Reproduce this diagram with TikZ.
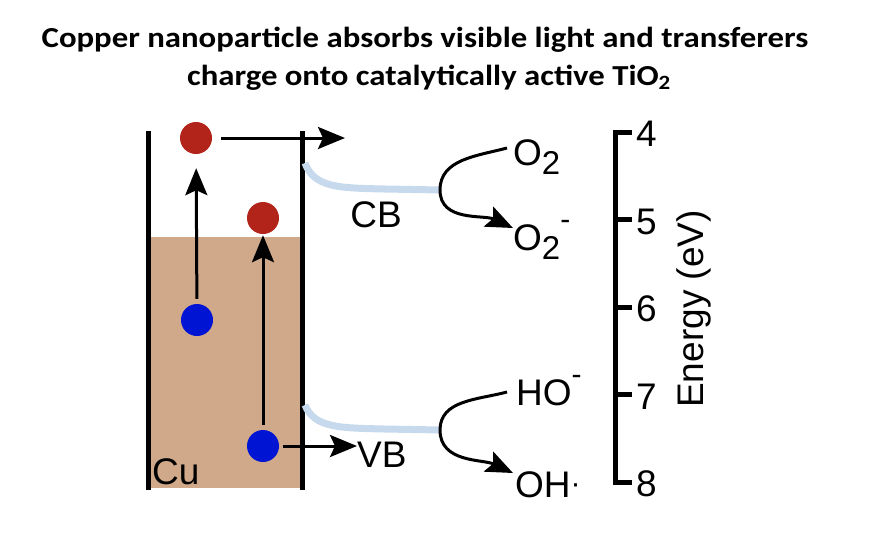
\documentclass[tikz,border=0pt]{standalone}
\usepackage{fontspec}
\setmainfont{Liberation Sans}
\newfontfamily\titlefont{Carlito}
\usepackage{xcolor}
\definecolor{cubrown}{RGB}{207,169,138}
\definecolor{elecred}{RGB}{178,36,26}
\definecolor{holeblue}{RGB}{0,20,212}
\definecolor{bandblue}{RGB}{199,217,236}
\usetikzlibrary{arrows.meta}
\newcommand{\lowtxt}[1]{\raisebox{-.25em}{\fontsize{33}{33}\selectfont #1}}
\newcommand{\hightxt}[1]{\raisebox{.55em}{\fontsize{30}{30}\selectfont #1}}

\begin{document}
\begin{tikzpicture}[x=1pt,y=-1pt,
wall/.style={line width=5pt},
electron/.style={circle,fill=elecred,inner sep=0pt,minimum size=32pt},
hole/.style={circle,fill=holeblue,inner sep=0pt,minimum size=32pt},
excite/.style={-{Stealth[length=27pt,width=22pt,inset=5pt]},line width=3pt},
band/.style={draw=bandblue,line width=7pt},
react/.style={-{Stealth[length=27pt,width=22pt,inset=5pt]},line width=3pt},
lbl/.style={font=\fontsize{37}{40}\selectfont,inner sep=0pt},
tick/.style={line width=5pt},
title/.style={font=\titlefont\bfseries\fontsize{29}{38}\selectfont,inner sep=0pt,anchor=base,xscale=1.13,transform shape}]
\useasboundingbox (0,0) rectangle (878,536);
\node[title] (head1) at (425,47) {Copper nanoparticle absorbs visible light and transferers};
\node[title] (head2) at (429,85) {charge onto catalytically active TiO\textsubscript{2}};
\fill[cubrown] (148,237) rectangle (302,488);
\draw[wall] (148,131) -- (148,490);
\draw[wall] (302,131) -- (302,490);
\node[lbl,anchor=south west] (cu) at (152,485) {Cu};
\node[electron] (e1) at (196,138) {};
\node[electron] (e2) at (263,218) {};
\node[hole] (h1) at (197,320) {};
\node[hole] (h2) at (263,446) {};
\draw[excite,shorten <=5pt,shorten >=14pt] (h1) -- (e1);
\draw[excite,shorten <=5pt,shorten >=1pt] (h2) -- (e2);
\coordinate (out) at (345,138);
\draw[excite,shorten <=9pt] (e1) -- (out);
\node[lbl,anchor=west] (vb) at (357,455) {VB};
\draw[excite,shorten <=4pt] (h2) -- (vb.west |- h2);
\node[lbl] (cb) at (376,215) {CB};
% bands bending at the interface
\coordinate (cbtop) at (305,163);
\coordinate (cbend) at (440,190);
\coordinate (vbtop) at (305,405);
\coordinate (vbend) at (440,430);
\draw[band] (cbtop) .. controls (314,188) and (340,188) .. (385,189) -- (cbend);
\draw[band] (vbtop) .. controls (314,428) and (340,428) .. (385,429) -- (vbend);
\node[lbl,anchor=west] (o2) at (513,157) {O\lowtxt{2}};
\node[lbl,anchor=base west] (o2m) at (513,250) {O\lowtxt{2}\hightxt{-}};
\node[lbl,anchor=base west] (hom) at (516,405) {HO\hightxt{-}};
\node[lbl,anchor=base west] (ohr) at (515,497) {OH\raisebox{.1em}{\fontsize{30}{30}\selectfont ·}};
\draw[react] (507,148) to[out=195,in=90] (cbend) to[out=-90,in=155] (513,228);
\draw[react] (507,392) to[out=195,in=90] (vbend) to[out=-90,in=155] (513,473);
% energy axis
\draw[tick] (632,132) -- (615,132) -- (615,482) -- (632,482);
\foreach \e [count=\i from 0] in {4,5,6,7,8} {
  \draw[tick] (615,132+87.5*\i) -- (632,132+87.5*\i);
  \node[lbl,anchor=west] (n\e) at (636,134+87.5*\i) {\e};
}
\node[lbl,rotate=90] (energy) at (694,309) {Energy (eV)};
\end{tikzpicture}
\end{document}
